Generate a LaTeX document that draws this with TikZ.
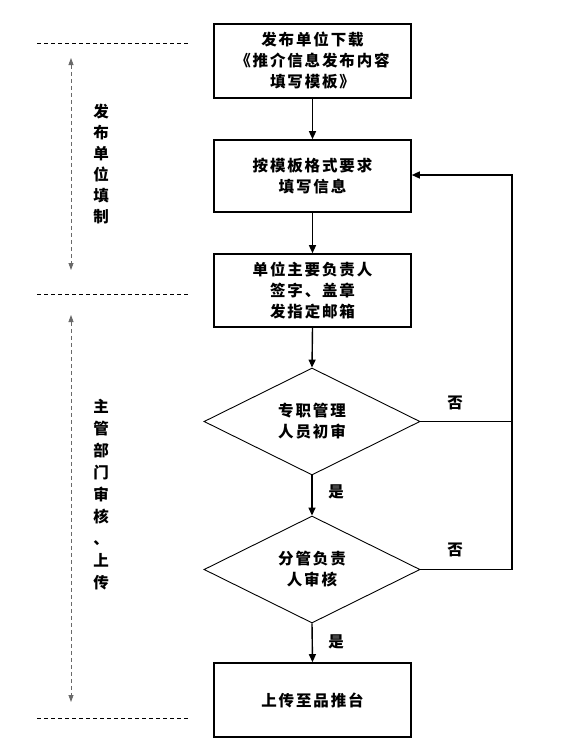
\documentclass[tikz,border=0pt]{standalone}
\usepackage{fontspec}
\setmainfont[LetterSpace=12]{Noto Sans CJK SC}
\usetikzlibrary{arrows.meta,shapes.geometric}
\begin{document}
\begin{tikzpicture}[x=1pt,y=-1pt,
  txt/.style={font=\fontsize{15.5}{21}\selectfont\bfseries},
  box/.style={txt, draw, line width=1.6pt, rectangle, minimum width=197pt, align=center, inner sep=0pt},
  dia/.style={txt, draw, line width=0.9pt, diamond, minimum width=216pt, minimum height=107pt, inner sep=0pt, align=center},
  flow/.style={line width=1.4pt, -{Triangle[length=8pt,width=7pt]}},
  back/.style={line width=1.4pt},
  sep/.style={line width=0.7pt, dash pattern=on 4pt off 3pt},
  span/.style={line width=0.8pt, draw={rgb,255:red,105;green,105;blue,105}, dash pattern=on 4pt off 3pt,
     {Triangle[length=7pt,width=5pt]}-{Triangle[length=7pt,width=5pt]}},
  lbl/.style={txt, inner sep=0pt}]
\useasboundingbox (0,0) rectangle (587,745);

\node[box, minimum height=74pt] (b1) at (312.5,61) {发布单位下载\\《推介信息发布内容\\填写模板》};
\node[box, minimum height=72pt] (b2) at (312.5,176) {按模板格式要求\\填写信息};
\node[box, minimum height=73pt] (b3) at (312.5,290.5) {单位主要负责人\\签字、盖章\\发指定邮箱};
\node[dia] (d1) at (312,421.5) {专职管理\\人员初审};
\node[dia] (d2) at (312,569.5) {分管负责\\人审核};
\node[box, minimum height=74pt] (b4) at (312.5,700) {上传至品推台};

\draw[flow] (b1.south) -- (b2.north);
\draw[flow] (b2.south) -- (b3.north);
\draw[flow] (b3.south) -- (d1.north);
\draw[flow] (d1.south) -- (d2.north);
\draw[flow] (d2.south) -- (b4.north);

\coordinate (fb) at (512,175);
\draw[back] (d1.east) -- (d1.east -| fb);
\draw[back, -{Triangle[length=8pt,width=7pt]}] (d2.east) -| (fb) -- (b2.east |- fb);

\node[lbl] (n1) at (455,403) {否};
\node[lbl] (n2) at (455,550) {否};
\node[lbl] (y1) at (336,492) {是};
\node[lbl] (y2) at (336,642) {是};

\coordinate (s1a) at (37,43);
\coordinate (s1b) at (188,43);
\coordinate (s2a) at (37,294);
\coordinate (s2b) at (188,294);
\coordinate (s3a) at (37,718);
\coordinate (s3b) at (188,718);
\draw[sep] (s1a) -- (s1b);
\draw[sep] (s2a) -- (s2b);
\draw[sep] (s3a) -- (s3b);

\coordinate (v1a) at (71,58);
\coordinate (v1b) at (71,270);
\coordinate (v2a) at (71,315);
\coordinate (v2b) at (71,702);
\draw[span] (v1a) -- (v1b);
\draw[span] (v2a) -- (v2b);

\node[lbl, align=center] (p1) at (101,164.5) {发\\布\\单\\位\\填\\制};
\node[lbl, align=center, font=\fontsize{15.5}{22}\selectfont\bfseries] (p2) at (101,494.5) {主\\管\\部\\门\\审\\核\\、\\上\\传};
\end{tikzpicture}
\end{document}
